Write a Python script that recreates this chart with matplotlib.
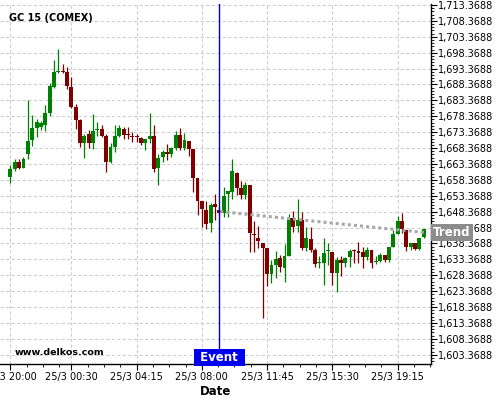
import matplotlib
matplotlib.use("Agg")
import matplotlib.pyplot as plt
import matplotlib.transforms as mtransforms
import numpy as np
from matplotlib.ticker import FixedLocator, FuncFormatter

# ---- data (15-minute candles, GC 15 COMEX) ----
opens = [1659.4, 1661.7, 1663.9, 1662.2, 1666.6, 1671.0, 1674.7, 1675.0, 1675.7, 1679.5,
         1687.7, 1692.2, 1692.6, 1692.3, 1687.6, 1681.3, 1677.2, 1670.1, 1672.8, 1670.1,
         1674.0, 1674.4, 1672.3, 1663.9, 1668.8, 1672.3, 1674.4, 1672.6, 1671.9, 1671.8,
         1671.6, 1669.9, 1671.1, 1672.2, 1662.2, 1665.7, 1667.1, 1666.4, 1668.5, 1672.5,
         1668.5, 1670.6, 1668.0, 1659.1, 1651.8, 1648.9, 1644.7, 1650.8, 1648.9, 1648.0,
         1653.8, 1654.7, 1660.6, 1655.7, 1653.5, 1656.8, 1641.3, 1640.1, 1638.4, 1636.9,
         1628.8, 1631.6, 1633.9, 1630.8, 1634.4, 1646.3, 1643.9, 1645.8, 1636.9, 1639.7,
         1636.3, 1632.1, 1632.3, 1636.0, 1635.6, 1629.2, 1633.2, 1632.1, 1634.2, 1636.1,
         1635.8, 1635.8, 1634.2, 1636.3, 1632.4, 1633.0, 1634.7, 1633.2, 1637.1, 1641.2,
         1645.4, 1642.6, 1637.1, 1638.4, 1636.5, 1640.4]
highs = [1663.0, 1664.8, 1665.0, 1665.7, 1683.5, 1678.8, 1677.6, 1677.0, 1681.8, 1688.7,
         1696.1, 1699.4, 1694.8, 1693.8, 1690.8, 1682.2, 1677.6, 1672.8, 1674.0, 1679.1,
         1676.7, 1675.6, 1672.8, 1669.9, 1675.6, 1675.6, 1674.9, 1674.9, 1673.3, 1672.8,
         1672.0, 1671.1, 1679.3, 1675.6, 1666.5, 1667.8, 1669.6, 1668.6, 1673.7, 1674.6,
         1673.2, 1670.6, 1668.0, 1659.1, 1651.8, 1651.6, 1651.0, 1653.9, 1649.8, 1656.0,
         1654.9, 1664.8, 1660.9, 1658.1, 1657.6, 1656.8, 1645.4, 1643.9, 1638.4, 1636.9,
         1633.2, 1636.0, 1634.7, 1638.1, 1647.5, 1648.6, 1652.3, 1648.4, 1643.6, 1643.6,
         1636.9, 1634.4, 1640.0, 1638.6, 1635.6, 1634.2, 1634.4, 1634.2, 1636.6, 1636.6,
         1638.9, 1637.3, 1637.4, 1636.3, 1634.4, 1635.3, 1634.7, 1637.2, 1642.6, 1647.0,
         1647.9, 1642.6, 1638.4, 1638.4, 1640.0, 1642.8]
lows = [1657.3, 1661.3, 1661.7, 1662.0, 1664.9, 1669.1, 1672.0, 1674.0, 1673.8, 1678.5,
        1687.2, 1691.9, 1691.9, 1686.9, 1680.9, 1674.3, 1668.6, 1665.2, 1668.3, 1668.0,
        1672.2, 1672.0, 1660.9, 1663.6, 1667.2, 1672.0, 1671.1, 1671.1, 1670.2, 1670.3,
        1669.3, 1667.8, 1669.9, 1660.9, 1656.7, 1664.0, 1664.5, 1665.6, 1667.9, 1667.9,
        1667.8, 1665.9, 1654.7, 1647.3, 1643.6, 1642.8, 1642.1, 1645.6, 1647.3, 1646.8,
        1646.6, 1652.3, 1653.6, 1652.3, 1652.3, 1635.8, 1635.8, 1636.9, 1614.8, 1625.0,
        1625.8, 1627.4, 1629.5, 1626.4, 1634.4, 1642.1, 1642.1, 1636.3, 1636.0, 1635.8,
        1631.1, 1630.6, 1625.3, 1631.6, 1625.3, 1623.0, 1628.0, 1631.1, 1630.9, 1632.1,
        1632.1, 1630.6, 1633.2, 1630.6, 1631.9, 1632.5, 1632.5, 1632.5, 1637.1, 1641.2,
        1641.6, 1636.1, 1636.3, 1636.3, 1636.3, 1640.0]
closes = [1661.8, 1663.9, 1662.1, 1664.9, 1670.6, 1674.6, 1676.5, 1676.3, 1679.4, 1687.9,
          1692.3, 1692.5, 1692.3, 1688.0, 1681.4, 1677.2, 1670.1, 1672.2, 1670.1, 1673.7,
          1674.4, 1672.3, 1663.9, 1668.8, 1672.3, 1674.6, 1672.5, 1672.4, 1671.7, 1671.7,
          1669.9, 1671.1, 1672.2, 1661.9, 1665.2, 1667.2, 1666.4, 1668.5, 1672.5, 1668.5,
          1670.9, 1668.0, 1659.1, 1651.8, 1649.1, 1644.4, 1650.5, 1649.7, 1648.0, 1653.3,
          1654.9, 1661.2, 1655.9, 1653.6, 1656.8, 1641.8, 1640.9, 1639.2, 1637.0, 1628.8,
          1631.6, 1633.4, 1631.1, 1634.4, 1646.3, 1643.6, 1645.8, 1637.0, 1640.2, 1636.3,
          1631.8, 1632.6, 1635.3, 1636.2, 1629.2, 1633.2, 1632.1, 1633.7, 1636.0, 1635.9,
          1635.5, 1634.2, 1636.3, 1632.1, 1632.6, 1634.7, 1633.2, 1637.2, 1641.4, 1645.4,
          1642.9, 1637.1, 1638.4, 1636.6, 1640.0, 1642.8]

tick_idx = [0, 14, 29, 44, 59, 74, 89]
tick_labels = ["24/3 20:00", "25/3 00:30", "25/3 04:15", "25/3 08:00",
               "25/3 11:45", "25/3 15:30", "25/3 19:15"]
event_idx = 48
trend_x = [48.2, 95.3]
trend_y = [1648.4, 1641.8]
title = "GC 15 (COMEX)"
watermark = "www.delkos.com"

UP = "#008000"
DOWN = "#800000"

fig = plt.figure(figsize=(5, 4), dpi=100)
ax = fig.add_axes([0.0, 0.09, 0.8614, 0.90])

o = np.array(opens); h = np.array(highs); l = np.array(lows); c = np.array(closes)
x = np.arange(len(o))
up = c >= o
colors = np.where(up, UP, DOWN)
bottoms = np.minimum(o, c)
heights = np.maximum(np.abs(c - o), 0.35)

ax.vlines(x, l, h, colors=colors, linewidth=0.9, zorder=3)
ax.bar(x, heights, bottom=bottoms, width=0.9, color=colors, linewidth=0, zorder=4)

# trend line
ax.plot(trend_x, trend_y, color="#a8a8a8", linewidth=2.2, linestyle=(0, (1, 1)), zorder=5)

# event line
ax.axvline(event_idx, color="#0000cc", linewidth=1.0, zorder=6)

ax.set_xlim(-2.4, 96.6)
ax.set_ylim(1600.46, 1713.68)

# y axis on the right
ax.yaxis.tick_right()
ax.yaxis.set_major_locator(FixedLocator(np.arange(1603.3688, 1714.0, 5.0)))
ax.yaxis.set_minor_locator(FixedLocator(np.arange(1601.3688, 1714.0, 1.0)))
ax.yaxis.set_major_formatter(FuncFormatter(lambda v, p: f"{v:,.4f}"))
ax.tick_params(axis="y", which="major", labelsize=7, length=4, width=0.8, pad=1.5)
ax.tick_params(axis="y", which="minor", length=2, width=0.6)

ax.xaxis.set_major_locator(FixedLocator(tick_idx))
ax.set_xticklabels(tick_labels)
minor_x = []
for t in tick_idx:
    for k in (1, 2, 3):
        minor_x.append(t + 3.75 * k)
ax.xaxis.set_minor_locator(FixedLocator(minor_x))
ax.tick_params(axis="x", which="major", labelsize=7, length=4, width=0.8, pad=2)
ax.tick_params(axis="x", which="minor", length=2, width=0.6)

ax.grid(True, which="major", color="#cfcfcf", linestyle=(0, (3, 2)), linewidth=0.8, zorder=0)
ax.set_axisbelow(True)

for s in ("top", "left"):
    ax.spines[s].set_visible(False)
ax.spines["right"].set_linewidth(1.0)
ax.spines["bottom"].set_linewidth(1.0)

ax.set_xlabel("Date", fontsize=8.5, fontweight="bold", labelpad=2)

ax.text(0.022, 0.975, title, transform=ax.transAxes, fontsize=7, fontweight="bold",
        ha="left", va="top", zorder=7)
ax.text(0.035, 0.02, watermark, transform=ax.transAxes, fontsize=6.8, fontweight="bold",
        ha="left", va="bottom", zorder=7)

blend = mtransforms.blended_transform_factory(ax.transData, ax.transAxes)
ax.text(event_idx, 0.0, " Event ", transform=blend, fontsize=8.5, fontweight="bold",
        color="white", ha="center", va="bottom", zorder=8,
        bbox=dict(boxstyle="square,pad=0.2", facecolor="#0000ee", edgecolor="none"))

blend2 = mtransforms.blended_transform_factory(ax.transAxes, ax.transData)
ax.text(1.006, trend_y[-1], "Trend", transform=blend2, fontsize=8.5, fontweight="bold",
        color="white", ha="left", va="center", zorder=8, clip_on=False,
        bbox=dict(boxstyle="square,pad=0.2", facecolor="#8c8c8c", edgecolor="none"))

fig.savefig("out.png", dpi=100)
